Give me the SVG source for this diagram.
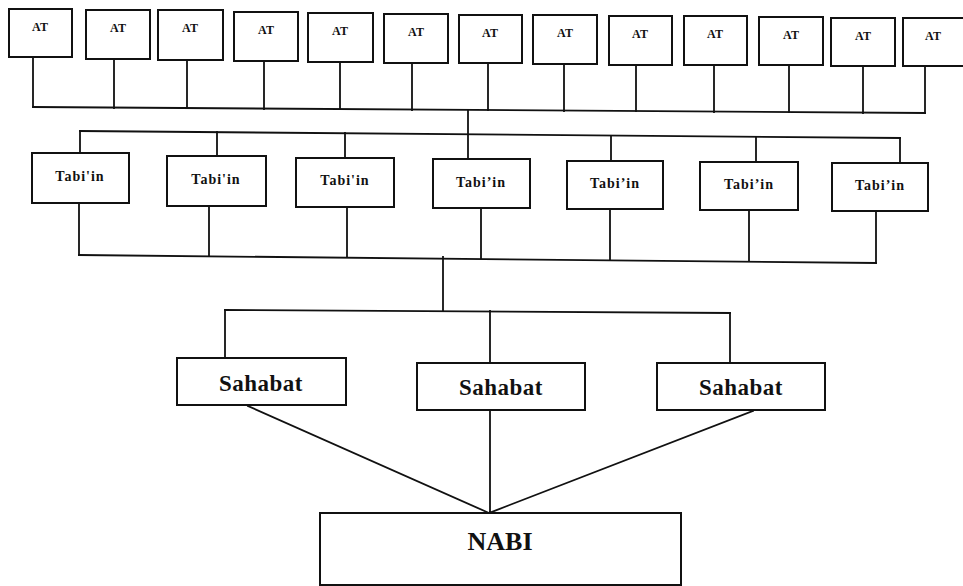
<svg xmlns="http://www.w3.org/2000/svg" width="963" height="586" viewBox="0 0 963 586">
<style>
.box{fill:#fff;stroke:#111;stroke-width:2}
.ln{fill:none;stroke:#111;stroke-width:1.8;stroke-linecap:square}
text{font-family:"Liberation Serif","Times New Roman",serif;font-weight:bold;fill:#111;text-anchor:middle}
.at{font-size:12px}
.tb{font-size:14px;letter-spacing:1px}
.sh{font-size:23px;letter-spacing:0.5px}
.nb{font-size:26px}
</style>
<rect width="963" height="586" fill="#fff"/>
<g id="connectors">
<path class="ln" d="M33,57V107 M114,59V108 M187,60V108 M264,61V109 M340,62V109 M412,63V110 M488,63V110 M564,64V111 M636,65V111 M714,65V112 M789,65V112 M863,66V113 M925,66V113"/>
<path class="ln" d="M33,107L925,113"/>
<path class="ln" d="M468,110V159"/>
<path class="ln" d="M80,131L900,138"/>
<path class="ln" d="M80,131V153 M217,132V156 M345,133V158 M611,136V161 M756,137V162 M900,138V163"/>
<path class="ln" d="M79,203V255 M209,206V256 M347,207V257 M481,208V258 M610,209V259 M749,210V261 M876,211V263"/>
<path class="ln" d="M79,255L876,263"/>
<path class="ln" d="M443,257V310"/>
<path class="ln" d="M225,310L730,313"/>
<path class="ln" d="M225,310V358 M490,311V363 M730,313V363"/>
<path class="ln" d="M248,406L489,513 M490,410V513 M753,411L489,513"/>
</g>
<g id="at1"><rect class="box" x="9" y="9" width="63" height="48"/><text class="at" x="40" y="31">AT</text></g>
<g id="at2"><rect class="box" x="86" y="10" width="64" height="49"/><text class="at" x="118" y="32">AT</text></g>
<g id="at3"><rect class="box" x="158" y="10" width="65" height="50"/><text class="at" x="190" y="32">AT</text></g>
<g id="at4"><rect class="box" x="234" y="12" width="64" height="49"/><text class="at" x="266" y="34">AT</text></g>
<g id="at5"><rect class="box" x="308" y="13" width="65" height="49"/><text class="at" x="340" y="35">AT</text></g>
<g id="at6"><rect class="box" x="384" y="14" width="64" height="49"/><text class="at" x="416" y="36">AT</text></g>
<g id="at7"><rect class="box" x="459" y="15" width="63" height="48"/><text class="at" x="490" y="37">AT</text></g>
<g id="at8"><rect class="box" x="533" y="15" width="64" height="49"/><text class="at" x="565" y="37">AT</text></g>
<g id="at9"><rect class="box" x="609" y="16" width="63" height="49"/><text class="at" x="640" y="38">AT</text></g>
<g id="at10"><rect class="box" x="684" y="16" width="63" height="49"/><text class="at" x="715" y="38">AT</text></g>
<g id="at11"><rect class="box" x="759" y="17" width="64" height="48"/><text class="at" x="791" y="39">AT</text></g>
<g id="at12"><rect class="box" x="831" y="18" width="64" height="48"/><text class="at" x="863" y="40">AT</text></g>
<g id="at13"><rect class="box" x="903" y="18" width="64" height="48"/><text class="at" x="933" y="40">AT</text></g>
<g id="tabiin1"><rect class="box" x="32" y="153" width="97" height="50"/><text class="tb" x="80" y="181">Tabi'in</text></g>
<g id="tabiin2"><rect class="box" x="167" y="156" width="99" height="50"/><text class="tb" x="216" y="184">Tabi'in</text></g>
<g id="tabiin3"><rect class="box" x="296" y="158" width="98" height="49"/><text class="tb" x="345" y="185">Tabi'in</text></g>
<g id="tabiin4"><rect class="box" x="433" y="159" width="97" height="49"/><text class="tb" x="481" y="187">Tabi’in</text></g>
<g id="tabiin5"><rect class="box" x="567" y="161" width="96" height="48"/><text class="tb" x="615" y="188">Tabi’in</text></g>
<g id="tabiin6"><rect class="box" x="700" y="162" width="98" height="48"/><text class="tb" x="749" y="189">Tabi’in</text></g>
<g id="tabiin7"><rect class="box" x="832" y="163" width="96" height="48"/><text class="tb" x="880" y="190">Tabi’in</text></g>
<g id="sahabat1"><rect class="box" x="177" y="358" width="169" height="47"/><text class="sh" x="261" y="391">Sahabat</text></g>
<g id="sahabat2"><rect class="box" x="417" y="363" width="168" height="47"/><text class="sh" x="501" y="395">Sahabat</text></g>
<g id="sahabat3"><rect class="box" x="657" y="363" width="168" height="47"/><text class="sh" x="741" y="395">Sahabat</text></g>
<g id="nabi"><rect class="box" x="320" y="513" width="361" height="72"/><text class="nb" x="500" y="550">NABI</text></g>
</svg>
